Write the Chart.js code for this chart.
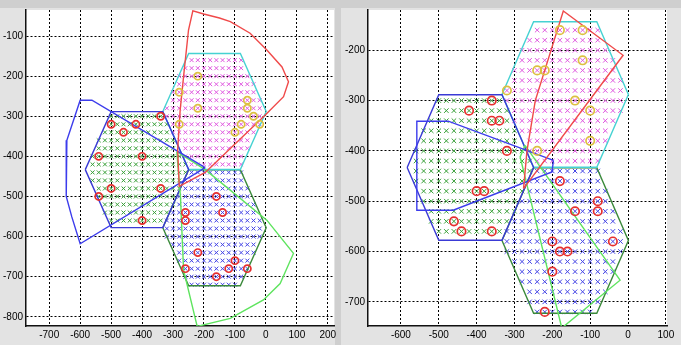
<!DOCTYPE html>
<html>
<head>
<meta charset="utf-8">
<script src="https://cdn.jsdelivr.net/npm/chart.js@4.4.0/dist/chart.umd.min.js"></script>
<style>
  html, body { margin: 0; padding: 0; background: #e3e3e3; }
  #wrap { position: relative; width: 681px; height: 345px; overflow: hidden; }
  canvas { position: absolute; top: 0; }
  #left { left: 0; }
  #right { left: 341px; }
  .topbar { position: absolute; left: 0; top: 0; width: 681px; height: 8px; background: #cfcfcf; }
  .midbar { position: absolute; left: 335px; top: 0; width: 6px; height: 345px; background: #cfcfcf; }
</style>
</head>
<body>
<div id="wrap">
  <div class="topbar"></div>
  <div class="midbar"></div>
  <canvas id="left" width="340" height="345"></canvas>
  <canvas id="right" width="340" height="345"></canvas>
</div>
<script>
// tick labels
const xTicksL = [-700, -600, -500, -400, -300, -200, -100, 0, 100, 200];
const yTicksL = [-800, -700, -600, -500, -400, -300, -200, -100];
const xTicksR = [-600, -500, -400, -300, -200, -100, 0, 100];
const yTicksR = [-700, -600, -500, -400, -300, -200];

// candidate points: rows of [y, first x, last x], 20 apart
const GRID_STEP = 20;
const rowsGreen = [
  [-300, -500, -340], [-320, -500, -320], [-340, -520, -320], [-360, -540, -300],
  [-380, -540, -300], [-400, -560, -280], [-420, -560, -260], [-440, -560, -260],
  [-460, -560, -280], [-480, -540, -280], [-500, -540, -300], [-520, -520, -300],
  [-540, -520, -320], [-560, -500, -340]
];
const rowsMagenta = [
  [-160, -240, -80], [-180, -260, -80], [-200, -280, -60], [-220, -280, -40],
  [-240, -300, -40], [-260, -300, -20], [-280, -320, -20], [-300, -320, -20],
  [-320, -300, -20], [-340, -300, -40], [-360, -280, -60], [-380, -260, -60],
  [-400, -260, -80], [-420, -240, -80]
];
const rowsBlue = [
  [-440, -240, -80], [-460, -260, -80], [-480, -260, -60], [-500, -280, -60],
  [-520, -280, -40], [-540, -300, -40], [-560, -320, -20], [-580, -320, -20],
  [-600, -320, -20], [-620, -300, -40], [-640, -280, -40], [-660, -280, -60],
  [-680, -260, -60], [-700, -260, -80], [-720, -240, -100]
];

// cell outlines
const hexGreen = [[-583.5, -433], [-500, -288.4], [-333, -288.4], [-249.5, -433], [-333, -577.6], [-500, -577.6], [-583.5, -433]];
const hexMagenta = [[-333, -288], [-249.5, -143.4], [-82.5, -143.4], [1, -288], [-82.5, -432.6], [-249.5, -432.6], [-333, -288]];
const hexBlue = [[-333, -578], [-249.5, -433.4], [-82.5, -433.4], [1, -578], [-82.5, -722.6], [-249.5, -722.6], [-333, -578]];

// left figure
const redUsersL = [[-500, -320], [-460, -340], [-420, -320], [-340, -300], [-540, -400], [-400, -400],
  [-500, -480], [-540, -500], [-340, -480], [-400, -560],
  [-160, -500], [-260, -540], [-260, -560], [-140, -540], [-220, -640], [-260, -680],
  [-160, -700], [-120, -680], [-100, -660], [-60, -680]];
const yellowUsersL = [[-220, -200], [-280, -240], [-220, -280], [-280, -320], [-60, -260],
  [-60, -280], [-40, -300], [-80, -320], [-20, -320], [-100, -340]];
const sectorRedL = [[-196, -440], [-280, -475], [-285, -384], [-277, -285], [-266, -201], [-250, -85],
  [-236, -37], [-201, -45], [-150, -55], [-115, -64], [-51, -93], [3, -135], [52, -177], [73, -214],
  [57, -251], [-2, -297], [-196, -440]];
const sectorBlueL = [[-196, -428], [-562, -260], [-600, -260], [-643, -360], [-645, -500],
  [-627, -551], [-600, -618], [-196, -428]];
const sectorGreenL = [[-288, -388], [-196, -433], [3, -559], [89, -642], [46, -717], [-8, -758],
  [-115, -804], [-222, -824], [-266, -683], [-276, -500], [-288, -388]];

// right figure
const redUsersR = [[-360, -300], [-420, -320], [-360, -340], [-340, -340], [-320, -400],
  [-400, -480], [-380, -480], [-460, -540], [-440, -560], [-360, -560],
  [-180, -460], [-80, -500], [-140, -520], [-80, -520], [-200, -580], [-40, -580],
  [-180, -600], [-160, -600], [-200, -640], [-220, -720]];
const yellowUsersR = [[-180, -160], [-120, -160], [-120, -220], [-240, -240], [-220, -240],
  [-320, -280], [-140, -300], [-100, -320], [-100, -380], [-240, -400]];
const sectorRedR = [[-276, -475], [-267, -400], [-245, -300], [-171, -122], [-13, -210], [-276, -475]];
const sectorBlueR = [[-197, -419], [-475, -341], [-558, -341], [-558, -518], [-462, -518], [-201, -442], [-197, -419]];
const sectorGreenR = [[-272, -389], [-21, -657], [-175, -752], [-285, -412], [-272, -389]];

const toXY = arr => arr.map(([x, y]) => ({x, y}));
function expandRows(rows) {
  const pts = [];
  rows.forEach(([y, x0, x1]) => {
    for (let x = x0; x <= x1; x += GRID_STEP) pts.push({x, y});
  });
  return pts;
}

const plotBg = {
  id: 'plotBg',
  beforeDraw(chart) {
    const {ctx, chartArea: a} = chart;
    ctx.save();
    ctx.fillStyle = '#ffffff';
    ctx.fillRect(a.left, a.top, a.right - a.left, a.bottom - a.top);
    ctx.restore();
  }
};

function outline(data, color) {
  return {data: toXY(data), showLine: true, borderColor: color, borderWidth: 1.4,
    pointRadius: 0, fill: false, tension: 0};
}
function circles(data, color, r) {
  return {data: toXY(data), pointStyle: 'circle', pointRadius: r, pointBorderColor: color,
    pointBackgroundColor: 'rgba(0,0,0,0)', pointBorderWidth: 1.7, showLine: false};
}
function crosses(rows, color, r) {
  return {data: expandRows(rows), pointStyle: 'crossRot', pointRadius: r, pointBorderColor: color,
    pointBorderWidth: 1, showLine: false};
}

function axis(min, max, ticks, isX, size) {
  return {
    type: 'linear', min, max,
    afterBuildTicks: s => { s.ticks = ticks.map(v => ({value: v})); },
    afterFit: s => {
      if (isX) { s.height = size; s.paddingLeft = 0; s.paddingRight = 0; }
      else { s.width = size; s.paddingTop = 0; s.paddingBottom = 0; }
    },
    grid: {color: '#000', lineWidth: 1, drawTicks: false},
    border: {display: true, color: '#111', width: 1.5, dash: [2, 2]},
    ticks: {padding: 3, color: '#000', autoSkip: false, maxRotation: 0,
      font: {family: 'Liberation Sans', size: 10}}
  };
}

function makeChart(id, o) {
  new Chart(document.getElementById(id), {
    type: 'scatter',
    data: {
      datasets: [
        circles(o.red, '#e62e2e', o.cr),
        circles(o.yellow, '#dcc040', o.cr),
        outline(o.sRed, '#f04a4a'),
        outline(o.sBlue, '#3c3cec'),
        outline(o.sGreen, '#5ee45e'),
        outline(hexGreen, '#3a3ad6'),
        outline(hexMagenta, '#46d2d2'),
        outline(hexBlue, '#3b8a3b'),
        crosses(rowsGreen, '#38a038', o.xr),
        crosses(rowsMagenta, '#e058e0', o.xr),
        crosses(rowsBlue, '#4444e6', o.xr)
      ]
    },
    options: {
      responsive: false,
      animation: false,
      layout: {padding: {top: 10, right: o.padRight, left: 0, bottom: 0}},
      scales: {
        x: axis(o.xMin, o.xMax, o.xTicks, true, 19),
        y: axis(o.yMin, o.yMax, o.yTicks, false, o.yWidth)
      },
      plugins: {legend: {display: false}, tooltip: {enabled: false}}
    },
    plugins: [plotBg]
  });
}

makeChart('left', {
  red: redUsersL, yellow: yellowUsersL, sRed: sectorRedL, sBlue: sectorBlueL, sGreen: sectorGreenL,
  xMin: -775, xMax: 220, yMin: -823, yMax: -35, xTicks: xTicksL, yTicks: yTicksL,
  yWidth: 26, padRight: 6, xr: 2.8, cr: 3.6
});
makeChart('right', {
  red: redUsersR, yellow: yellowUsersR, sRed: sectorRedR, sBlue: sectorBlueR, sGreen: sectorGreenR,
  xMin: -687, xMax: 103, yMin: -748, yMax: -120, xTicks: xTicksR, yTicks: yTicksR,
  yWidth: 27, padRight: 14, xr: 3.2, cr: 4.2
});
</script>
</body>
</html>
